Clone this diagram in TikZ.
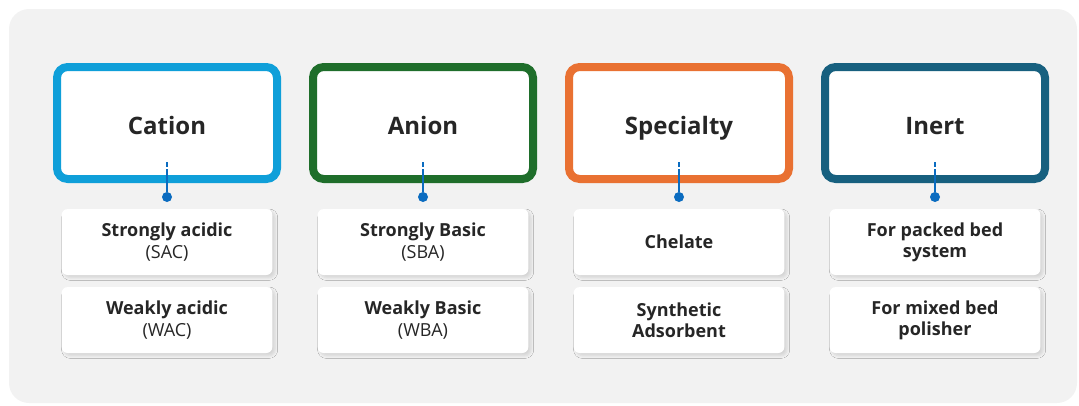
\documentclass[tikz,border=0pt]{standalone}
\usepackage{fontspec}
\setmainfont{Open Sans}
\usetikzlibrary{positioning,shadows.blur}

\definecolor{bggray}{HTML}{F2F2F2}
\definecolor{txtgray}{HTML}{262626}
\definecolor{linkblue}{HTML}{0B6CC0}
\definecolor{cationcol}{HTML}{0F9FD9}
\definecolor{anioncol}{HTML}{1F6E2B}
\definecolor{specialcol}{HTML}{E97132}
\definecolor{inertcol}{HTML}{17607F}

\begin{document}
\begin{tikzpicture}[x=0.75pt,y=0.75pt,
  groupbox/.style={draw=#1, line width=6pt, fill=white, rounded corners=8pt,
    minimum width=165pt, minimum height=84pt, inner sep=0pt,
    text height=16.5pt, text depth=0pt,
    font=\fontsize{18}{21}\selectfont\bfseries, text=txtgray},
  typebox/.style={fill=white, rounded corners=4.5pt, minimum width=158pt,
    minimum height=49.5pt, inner sep=0pt, align=center,
    font=\fontsize{13.5}{16}\selectfont, text=txtgray,
    blur shadow={shadow xshift=2pt, shadow yshift=-2pt,
      shadow blur radius=2pt, shadow opacity=12}},
  link/.style={draw=linkblue, line width=2.2pt},
  linkdot/.style={circle, fill=linkblue, inner sep=0pt, minimum size=7.5pt}]
  \useasboundingbox (0,0) rectangle (1079,405);
  \fill[bggray, rounded corners=15pt] (9,2) rectangle (1077,396);

  \foreach \name/\col/\xx/\title/\one/\two in {
    cation/cationcol/167/Cation/{\textbf{Strongly acidic}\\(SAC)}/{\textbf{Weakly acidic}\\(WAC)},
    anion/anioncol/423/Anion/{\textbf{Strongly Basic}\\(SBA)}/{\textbf{Weakly Basic}\\(WBA)},
    specialty/specialcol/679/Specialty/{\textbf{Chelate}}/{\textbf{Synthetic}\\\textbf{Adsorbent}},
    inert/inertcol/935/Inert/{\textbf{For packed bed}\\\textbf{system}}/{\textbf{For mixed bed}\\\textbf{polisher}}}
  {
    \node[groupbox=\col] (\name) at (\xx,282) {\title};
    \node[typebox] (\name-a) at (\xx,163) {\one};
    \node[typebox] (\name-b) at (\xx,85) {\two};
    \coordinate (\name-top) at (\xx,243);
    \coordinate (\name-mid) at (\xx,231);
    \node[linkdot] (\name-dot) at (\xx,208) {};
    % dashed inside the box, solid down to the dot
    \draw[link, dash pattern=on 3.5pt off 2pt] (\name-top) -- (\name-mid);
    \draw[link] (\name-mid) -- (\name-dot);
  }
\end{tikzpicture}
\end{document}
